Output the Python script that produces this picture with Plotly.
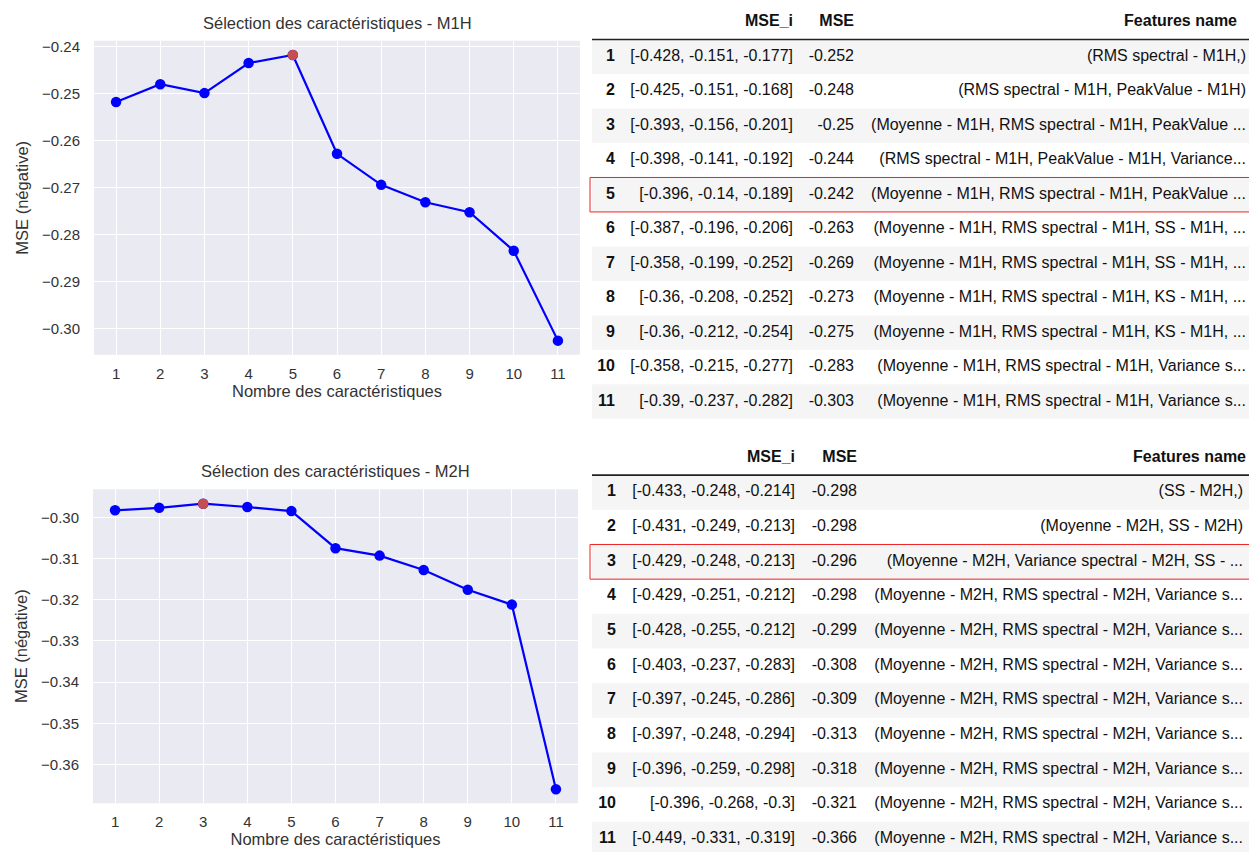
import plotly.graph_objects as go

W, H = 1249, 852

# ---------------- data ----------------
n_features = [1, 2, 3, 4, 5, 6, 7, 8, 9, 10, 11]

m1h_curve = [-0.2518, -0.2480, -0.2499, -0.2435, -0.2418, -0.2628, -0.2694,
             -0.2731, -0.2752, -0.2834, -0.3025]
m2h_curve = [-0.2983, -0.2977, -0.2967, -0.2975, -0.2985, -0.3075, -0.3093,
             -0.3128, -0.3176, -0.3212, -0.3660]

m1h_yticks = [-0.24, -0.25, -0.26, -0.27, -0.28, -0.29, -0.30]
m2h_yticks = [-0.30, -0.31, -0.32, -0.33, -0.34, -0.35, -0.36]

m1h_mse_i = ["[-0.428, -0.151, -0.177]", "[-0.425, -0.151, -0.168]",
             "[-0.393, -0.156, -0.201]", "[-0.398, -0.141, -0.192]",
             "[-0.396, -0.14, -0.189]", "[-0.387, -0.196, -0.206]",
             "[-0.358, -0.199, -0.252]", "[-0.36, -0.208, -0.252]",
             "[-0.36, -0.212, -0.254]", "[-0.358, -0.215, -0.277]",
             "[-0.39, -0.237, -0.282]"]
m1h_mse = ["-0.252", "-0.248", "-0.25", "-0.244", "-0.242", "-0.263",
           "-0.269", "-0.273", "-0.275", "-0.283", "-0.303"]
m1h_names = ["(RMS spectral - M1H,)",
             "(RMS spectral - M1H, PeakValue - M1H)",
             "(Moyenne - M1H, RMS spectral - M1H, PeakValue ...",
             "(RMS spectral - M1H, PeakValue - M1H, Variance...",
             "(Moyenne - M1H, RMS spectral - M1H, PeakValue ...",
             "(Moyenne - M1H, RMS spectral - M1H, SS - M1H, ...",
             "(Moyenne - M1H, RMS spectral - M1H, SS - M1H, ...",
             "(Moyenne - M1H, RMS spectral - M1H, KS - M1H, ...",
             "(Moyenne - M1H, RMS spectral - M1H, KS - M1H, ...",
             "(Moyenne - M1H, RMS spectral - M1H, Variance s...",
             "(Moyenne - M1H, RMS spectral - M1H, Variance s..."]

m2h_mse_i = ["[-0.433, -0.248, -0.214]", "[-0.431, -0.249, -0.213]",
             "[-0.429, -0.248, -0.213]", "[-0.429, -0.251, -0.212]",
             "[-0.428, -0.255, -0.212]", "[-0.403, -0.237, -0.283]",
             "[-0.397, -0.245, -0.286]", "[-0.397, -0.248, -0.294]",
             "[-0.396, -0.259, -0.298]", "[-0.396, -0.268, -0.3]",
             "[-0.449, -0.331, -0.319]"]
m2h_mse = ["-0.298", "-0.298", "-0.296", "-0.298", "-0.299", "-0.308",
           "-0.309", "-0.313", "-0.318", "-0.321", "-0.366"]
m2h_names = ["(SS - M2H,)",
             "(Moyenne - M2H, SS - M2H)",
             "(Moyenne - M2H, Variance spectral - M2H, SS - ...",
             "(Moyenne - M2H, RMS spectral - M2H, Variance s...",
             "(Moyenne - M2H, RMS spectral - M2H, Variance s...",
             "(Moyenne - M2H, RMS spectral - M2H, Variance s...",
             "(Moyenne - M2H, RMS spectral - M2H, Variance s...",
             "(Moyenne - M2H, RMS spectral - M2H, Variance s...",
             "(Moyenne - M2H, RMS spectral - M2H, Variance s...",
             "(Moyenne - M2H, RMS spectral - M2H, Variance s...",
             "(Moyenne - M2H, RMS spectral - M2H, Variance s..."]

table_headers = ["MSE_i", "MSE", "Features name"]

# ---------------- style ----------------
FONT = "Liberation Sans, Arial, sans-serif"
TXT = "#333333"
BG = "#EAEAF2"
LINE_BLUE = "#0000FF"
BEST_RED = "#C44E52"


def py(p):
    return 1 - p / H


fig = go.Figure()
shapes = []
annotations = []

# ---------------- charts ----------------
charts = [
    dict(vals=m1h_curve, xa="x", ya="y", title="Sélection des caractéristiques - M1H"),
    dict(vals=m2h_curve, xa="x2", ya="y2", title="Sélection des caractéristiques - M2H"),
]
for c in charts:
    vals = c["vals"]
    best = max(range(len(vals)), key=lambda i: vals[i])
    fig.add_trace(go.Scatter(x=n_features, y=vals, mode="lines+markers",
                             line=dict(color=LINE_BLUE, width=2.2),
                             marker=dict(color=LINE_BLUE, size=10.5),
                             xaxis=c["xa"], yaxis=c["ya"], showlegend=False,
                             hoverinfo="x+y"))
    fig.add_trace(go.Scatter(x=[n_features[best]], y=[vals[best]], mode="markers",
                             marker=dict(color=BEST_RED, size=10.5),
                             xaxis=c["xa"], yaxis=c["ya"], showlegend=False,
                             hoverinfo="x+y"))
    shapes.append(dict(type="rect", xref=c["xa"] + " domain", yref=c["ya"] + " domain",
                       x0=0, x1=1, y0=0, y1=1, fillcolor=BG, line=dict(width=0),
                       layer="below"))
    annotations.append(dict(text=c["title"], xref=c["xa"] + " domain",
                            yref=c["ya"] + " domain", x=0.5, y=1, yshift=7,
                            xanchor="center", yanchor="bottom", showarrow=False,
                            font=dict(family=FONT, size=16.5, color=TXT)))


def chart_x(domain_px):
    return dict(domain=[domain_px[0] / W, domain_px[1] / W], range=[0.5, 11.5],
                tickvals=n_features, showgrid=True, gridcolor="white", gridwidth=1.3,
                zeroline=False, showline=False, ticks="outside", ticklen=5,
                tickcolor="rgba(0,0,0,0)",
                tickfont=dict(family=FONT, size=15, color=TXT),
                title=dict(text="Nombre des caractéristiques", standoff=3,
                           font=dict(family=FONT, size=16.5, color=TXT)))


def chart_y(domain_px, rng, ticks):
    return dict(domain=[py(domain_px[1]), py(domain_px[0])], range=rng,
                tickvals=ticks, tickformat=".2f", showgrid=True, gridcolor="white",
                gridwidth=1.3, zeroline=False, showline=False, ticks="outside",
                ticklen=10, tickcolor="rgba(0,0,0,0)",
                tickfont=dict(family=FONT, size=15, color=TXT),
                title=dict(text="MSE (négative)", standoff=9,
                           font=dict(family=FONT, size=16.5, color=TXT)))


# ---------------- tables ----------------
TABLE_X0 = 586  # left edge of table axis domain (px)
TABLE_W = W - TABLE_X0


def add_table(xa, ya, mse_i, mse, names, highlight, cols, hdr_feat_x):
    rows = list(range(1, len(mse) + 1))
    # row shading
    for r in rows:
        if r % 2 == 1:
            shapes.append(dict(type="rect", xref=xa, yref=ya, x0=592 - TABLE_X0,
                               x1=TABLE_W + 5, y0=r - 0.5, y1=r + 0.5,
                               fillcolor="#F5F5F5", line=dict(width=0), layer="below"))
    # header rule
    shapes.append(dict(type="line", xref=xa, yref=ya, x0=592 - TABLE_X0, x1=TABLE_W + 5,
                       y0=0.5, y1=0.5, line=dict(color="#222222", width=1.6)))
    # highlighted best row
    shapes.append(dict(type="rect", xref=xa, yref=ya, x0=590 - TABLE_X0, x1=TABLE_W + 5,
                       y0=highlight - 0.5, y1=highlight + 0.5,
                       line=dict(color="#EE2222", width=1), fillcolor="rgba(0,0,0,0)"))
    tf = dict(family=FONT, size=16, color="#111111")
    idx_x, msei_x, mse_x, feat_x = [c - TABLE_X0 for c in cols]
    fig.add_trace(go.Scatter(x=[idx_x] * len(rows), y=rows, mode="text",
                             text=["<b>%d</b>" % r for r in rows],
                             textposition="middle left", textfont=tf,
                             xaxis=xa, yaxis=ya, showlegend=False, hoverinfo="skip",
                             cliponaxis=False))
    for xpos, col in ((msei_x, mse_i), (mse_x, mse), (feat_x, names)):
        fig.add_trace(go.Scatter(x=[xpos] * len(rows), y=rows, mode="text", text=col,
                                 textposition="middle left", textfont=tf,
                                 xaxis=xa, yaxis=ya, showlegend=False,
                                 hoverinfo="skip", cliponaxis=False))
    fig.add_trace(go.Scatter(x=[msei_x, mse_x, hdr_feat_x - TABLE_X0], y=[0, 0, 0],
                             mode="text",
                             text=["<b>%s</b>" % h for h in table_headers],
                             textposition="middle left", textfont=tf,
                             xaxis=xa, yaxis=ya, showlegend=False, hoverinfo="skip",
                             cliponaxis=False))


add_table("x3", "y3", m1h_mse_i, m1h_mse, m1h_names, highlight=5,
          cols=[615, 793, 854, 1246], hdr_feat_x=1237)
add_table("x4", "y4", m2h_mse_i, m2h_mse, m2h_names, highlight=3,
          cols=[616, 795, 857, 1243], hdr_feat_x=1246)

hidden = dict(visible=False, showgrid=False, zeroline=False, fixedrange=True)

fig.update_layout(
    width=W, height=H,
    margin=dict(l=0, r=0, t=0, b=0),
    paper_bgcolor="white", plot_bgcolor="white",
    showlegend=False,
    font=dict(family=FONT, color=TXT),
    xaxis=dict(chart_x((94, 580)), anchor="y"),
    yaxis=dict(chart_y((38, 353), [-0.3055, -0.2388], m1h_yticks), anchor="x"),
    xaxis2=dict(chart_x((93, 578)), anchor="y2"),
    yaxis2=dict(chart_y((488, 803), [-0.3694, -0.2932], m2h_yticks), anchor="x2"),
    xaxis3=dict(hidden, domain=[TABLE_X0 / W, 1], range=[0, TABLE_W], anchor="y3"),
    yaxis3=dict(hidden, domain=[py(417.3), 1], range=[11.5, -0.56], anchor="x3"),
    xaxis4=dict(hidden, domain=[TABLE_X0 / W, 1], range=[0, TABLE_W], anchor="y4"),
    yaxis4=dict(hidden, domain=[0, py(437)], range=[11.37, -0.558], anchor="x4"),
    shapes=shapes,
    annotations=annotations,
)

fig.write_html("out.html", config={"displayModeBar": False},
               post_script="document.body.style.margin='0';document.body.style.padding='0';")
